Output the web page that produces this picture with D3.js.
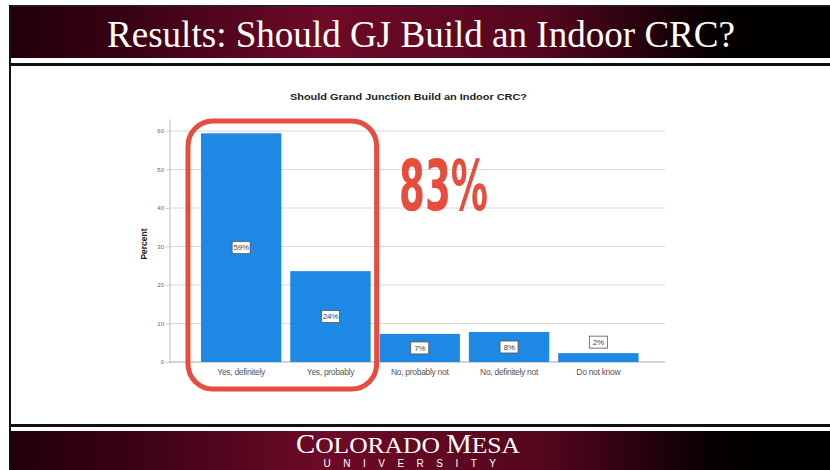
<!DOCTYPE html>
<html><head><meta charset="utf-8">
<script src="https://cdn.jsdelivr.net/npm/d3@7"></script>
<style>html,body{margin:0;padding:0;background:#fff;}svg{display:block;}</style>
</head><body>
<script>
const categories = ["Yes, definitely", "Yes, probably", "No, probably not", "No, definitely not", "Do not know"];
const values = [59.4, 23.6, 7.3, 7.8, 2.3];
const valueLabels = ["59%", "24%", "7%", "8%", "2%"];
const yTicks = [0, 10, 20, 30, 40, 50, 60];
const slideTitle = "Results: Should GJ Build an Indoor CRC?";
const chartTitle = "Should Grand Junction Build an Indoor CRC?";
const highlightText = "83%";

const W = 830, H = 470;
const svg = d3.select("body").append("svg").attr("width", W).attr("height", H);
const defs = svg.append("defs");

const g2 = defs.append("linearGradient").attr("id", "hdrL").attr("x1", "0").attr("x2", "1");
g2.append("stop").attr("offset", "0").attr("stop-color", "#22000b");
g2.append("stop").attr("offset", "0.15").attr("stop-color", "#3a0214");
g2.append("stop").attr("offset", "0.38").attr("stop-color", "#6e0a27");
g2.append("stop").attr("offset", "0.65").attr("stop-color", "#55061d");
g2.append("stop").attr("offset", "0.86").attr("stop-color", "#050001");
g2.append("stop").attr("offset", "1").attr("stop-color", "#000");

// Header band
svg.append("rect").attr("x", 10).attr("y", 6).attr("width", 820).attr("height", 52).attr("fill", "url(#hdrL)");
svg.append("rect").attr("x", 10).attr("y", 5).attr("width", 820).attr("height", 1.5).attr("fill", "#222");
svg.append("rect").attr("x", 10).attr("y", 58).attr("width", 820).attr("height", 5).attr("fill", "#fff");
svg.append("rect").attr("x", 10).attr("y", 63).attr("width", 820).attr("height", 3).attr("fill", "#111");
svg.append("text").attr("x", 107).attr("y", 47)
  .attr("textLength", 628).attr("lengthAdjust", "spacingAndGlyphs")
  .attr("font-family", "Liberation Serif, DejaVu Serif, serif").attr("font-size", 38).attr("fill", "#fff")
  .text(slideTitle);

// Footer band
svg.append("rect").attr("x", 10).attr("y", 424).attr("width", 820).attr("height", 3).attr("fill", "#111");
svg.append("rect").attr("x", 10).attr("y", 431).attr("width", 820).attr("height", 39).attr("fill", "url(#hdrL)");
svg.append("text").attr("x", 296).attr("y", 453)
  .attr("textLength", 224).attr("lengthAdjust", "spacingAndGlyphs")
  .attr("font-family", "Liberation Serif, DejaVu Serif, serif").attr("font-size", 24).attr("fill", "#fff")
  .html('<tspan font-size="27">C</tspan>OLORADO <tspan font-size="27">M</tspan>ESA');
svg.append("text").attr("x", 416).attr("y", 467).attr("text-anchor", "middle")
  .attr("font-family", "Liberation Sans, DejaVu Sans, sans-serif").attr("font-size", 10).attr("fill", "#fff")
  .attr("letter-spacing", 12.5).text("UNIVERSITY");

// Left border
svg.append("rect").attr("x", 9).attr("y", 5).attr("width", 2).attr("height", 465).attr("fill", "#111");

// Chart
const y = d3.scaleLinear().domain([0, 60]).range([362, 131]);
const x = d3.scaleBand().domain(categories).range([196.5, 643]).paddingInner(0.1).paddingOuter(0.05);
const axisLeftX = 170, gridRight = 665;

const grid = svg.append("g");
grid.selectAll("line").data(yTicks.filter(d => d > 0)).join("line")
  .attr("x1", axisLeftX).attr("x2", gridRight).attr("y1", d => y(d)).attr("y2", d => y(d))
  .attr("stroke", "#d9d9d9").attr("stroke-width", 1);

const yAxis = svg.append("g").attr("transform", `translate(${axisLeftX},0)`)
  .call(d3.axisLeft(y).tickValues(yTicks).tickSize(4).tickPadding(2));
yAxis.select(".domain").attr("stroke", "#bbb").attr("d", `M0,${y(63)}V${y(0)}`);
yAxis.selectAll(".tick line").attr("stroke", "#ccc");
yAxis.selectAll("text").attr("font-family", "Liberation Sans, Arial, sans-serif").attr("font-size", 6).attr("fill", "#666");

svg.append("line").attr("x1", axisLeftX).attr("x2", gridRight).attr("y1", y(0)).attr("y2", y(0))
  .attr("stroke", "#aaa").attr("stroke-width", 1.2);

svg.append("g").selectAll("rect").data(values).join("rect")
  .attr("x", (d, i) => x(categories[i])).attr("width", x.bandwidth())
  .attr("y", d => y(d)).attr("height", d => y(0) - y(d)).attr("fill", "#1e88e5");

// x labels
svg.append("g").selectAll("text").data(categories).join("text")
  .attr("x", d => x(d) + x.bandwidth() / 2).attr("y", 375).attr("text-anchor", "middle")
  .attr("font-family", "Liberation Sans, Arial, sans-serif").attr("font-size", 8.5).attr("fill", "#555")
  .attr("letter-spacing", -0.3).text(d => d);

// value labels
const lab = svg.append("g").selectAll("g").data(values).join("g")
  .attr("transform", (d, i) => {
    const cx = x(categories[i]) + x.bandwidth() / 2;
    const cy = d > 5 ? y(d / 2) : y(d) - 11;
    return `translate(${cx},${cy})`;
  });
lab.append("rect").attr("x", -9).attr("y", -6).attr("width", 18).attr("height", 12)
  .attr("fill", "#fff").attr("stroke", "#555").attr("stroke-width", 0.8);
lab.append("text").attr("text-anchor", "middle").attr("dy", "0.35em")
  .attr("font-family", "Liberation Sans, Arial, sans-serif").attr("font-size", 8).attr("fill", "#444")
  .attr("letter-spacing", -0.3).text((d, i) => valueLabels[i]);

// Chart title
svg.append("text").attr("x", 290).attr("y", 100)
  .attr("textLength", 237).attr("lengthAdjust", "spacingAndGlyphs")
  .attr("font-family", "Liberation Sans, Arial, sans-serif").attr("font-weight", "bold").attr("font-size", 9.5)
  .attr("fill", "#222").text(chartTitle);

// Y axis title
svg.append("text").attr("transform", "translate(147,244) rotate(-90)").attr("text-anchor", "middle")
  .attr("font-family", "Liberation Sans, Arial, sans-serif").attr("font-weight", "bold").attr("font-size", 8.5)
  .attr("fill", "#222").text("Percent");

// Highlight box
const bx0 = x(categories[0]) - 13, bx1 = x(categories[1]) + x.bandwidth() + 6;
svg.append("rect").attr("x", bx0).attr("y", 121)
  .attr("width", bx1 - bx0).attr("height", 268)
  .attr("rx", 25).attr("fill", "none").attr("stroke", "#e74c3c").attr("stroke-width", 5);

// 83%
svg.append("text").attr("transform", "translate(443.5,210) scale(0.59,1)").attr("text-anchor", "middle")
  .attr("font-family", "Liberation Sans Narrow, DejaVu Sans Condensed, Arial, sans-serif").attr("font-weight", "bold")
  .attr("font-size", 70).attr("fill", "#e74c3c").text(highlightText);
</script>
</body></html>
